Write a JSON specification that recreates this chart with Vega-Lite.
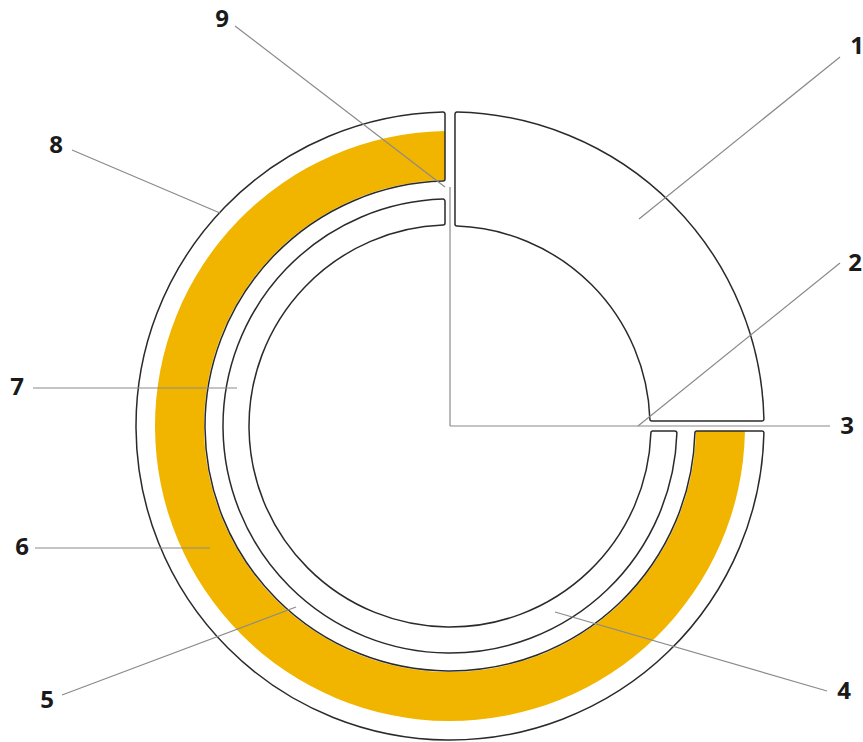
{
  "$schema": "https://vega.github.io/schema/vega-lite/v6.json",
  "width": 863,
  "height": 742,
  "autosize": {"type": "none"},
  "padding": 0,
  "background": "white",
  "config": {"view": {"stroke": null}},
  "datasets": {
    "sector": [{"part": "1", "t0": 0, "t1": 90, "r0": 200, "r1": 314, "cx": 0, "cy": 0}],
    "band": [{"part": "6", "t0": 90, "t1": 360, "r0": 246, "r1": 295, "cx": 0, "cy": 0}],
    "outer": [{"part": "8", "t0": 90, "t1": 360, "r0": 245, "r1": 314, "cx": 0, "cy": 0}],
    "ring": [{"part": "7", "t0": 90, "t1": 360, "r0": 201, "r1": 227, "cx": 0, "cy": 0}],
    "leaders": [
      {"id": "9", "x1": -215, "y1": 400, "x2": -5, "y2": 239},
      {"id": "v", "x1": 0, "y1": 239, "x2": 0, "y2": 0},
      {"id": "3", "x1": 0, "y1": 0, "x2": 380, "y2": 0},
      {"id": "8", "x1": -378, "y1": 276, "x2": -230, "y2": 213},
      {"id": "7", "x1": -417, "y1": 38, "x2": -213, "y2": 38},
      {"id": "6", "x1": -415, "y1": -122, "x2": -240, "y2": -122},
      {"id": "5", "x1": -388, "y1": -269, "x2": -154, "y2": -181},
      {"id": "4", "x1": 377, "y1": -265, "x2": 105, "y2": -186},
      {"id": "1", "x1": 390, "y1": 369, "x2": 189, "y2": 207},
      {"id": "2", "x1": 390, "y1": 163, "x2": 188, "y2": 0}
    ],
    "labels": [
      {"label": "1", "x": 407, "y": 379},
      {"label": "2", "x": 405, "y": 162},
      {"label": "3", "x": 397, "y": -1},
      {"label": "4", "x": 394, "y": -266},
      {"label": "5", "x": -403, "y": -275},
      {"label": "6", "x": -428, "y": -122},
      {"label": "7", "x": -433, "y": 38},
      {"label": "8", "x": -394, "y": 280},
      {"label": "9", "x": -228, "y": 406}
    ]
  },
  "layer": [
    {
      "data": {"name": "band"},
      "mark": {"type": "arc", "fill": "#F1B500", "strokeWidth": 0, "padAngle": 0.026, "cornerRadius": 1},
      "encoding": {
        "x": {"field": "cx", "type": "quantitative", "scale": {"domain": [-450, 413], "nice": false, "zero": false}, "axis": null},
        "y": {"field": "cy", "type": "quantitative", "scale": {"domain": [-316, 426], "nice": false, "zero": false}, "axis": null},
        "theta": {"field": "t0", "type": "quantitative", "stack": null, "scale": {"domain": [0, 360], "range": [0, 6.283185307179586]}},
        "theta2": {"field": "t1"},
        "radius": {"field": "r1", "type": "quantitative", "scale": {"type": "linear", "domain": [0, 320], "range": [0, 320], "zero": true}},
        "radius2": {"field": "r0"}
      }
    },
    {
      "data": {"name": "outer"},
      "mark": {"type": "arc", "fill": "transparent", "stroke": "#2a2a2a", "strokeWidth": 1.5, "padAngle": 0.0251, "cornerRadius": 2},
      "encoding": {
        "x": {"field": "cx", "type": "quantitative", "axis": null},
        "y": {"field": "cy", "type": "quantitative", "axis": null},
        "theta": {"field": "t0", "type": "quantitative", "stack": null},
        "theta2": {"field": "t1"},
        "radius": {"field": "r1", "type": "quantitative"},
        "radius2": {"field": "r0"}
      }
    },
    {
      "data": {"name": "ring"},
      "mark": {"type": "arc", "fill": "white", "stroke": "#2a2a2a", "strokeWidth": 1.5, "padAngle": 0.033, "cornerRadius": 2},
      "encoding": {
        "x": {"field": "cx", "type": "quantitative", "axis": null},
        "y": {"field": "cy", "type": "quantitative", "axis": null},
        "theta": {"field": "t0", "type": "quantitative", "stack": null},
        "theta2": {"field": "t1"},
        "radius": {"field": "r1", "type": "quantitative"},
        "radius2": {"field": "r0"}
      }
    },
    {
      "data": {"name": "sector"},
      "mark": {"type": "arc", "fill": "white", "stroke": "#2a2a2a", "strokeWidth": 1.5, "padAngle": 0.0268, "cornerRadius": 2},
      "encoding": {
        "x": {"field": "cx", "type": "quantitative", "axis": null},
        "y": {"field": "cy", "type": "quantitative", "axis": null},
        "theta": {"field": "t0", "type": "quantitative", "stack": null},
        "theta2": {"field": "t1"},
        "radius": {"field": "r1", "type": "quantitative"},
        "radius2": {"field": "r0"}
      }
    },
    {
      "data": {"name": "leaders"},
      "mark": {"type": "rule", "stroke": "#8a8a8a", "strokeWidth": 1.2},
      "encoding": {
        "x": {"field": "x1", "type": "quantitative", "axis": null},
        "y": {"field": "y1", "type": "quantitative", "axis": null},
        "x2": {"field": "x2"},
        "y2": {"field": "y2"}
      }
    },
    {
      "data": {"name": "labels"},
      "mark": {"type": "text", "font": "Open Sans", "fontWeight": "bold", "fontSize": 24, "fill": "#1a1a1a", "align": "center", "baseline": "middle"},
      "encoding": {
        "x": {"field": "x", "type": "quantitative", "axis": null},
        "y": {"field": "y", "type": "quantitative", "axis": null},
        "text": {"field": "label", "type": "nominal"}
      }
    }
  ]
}
